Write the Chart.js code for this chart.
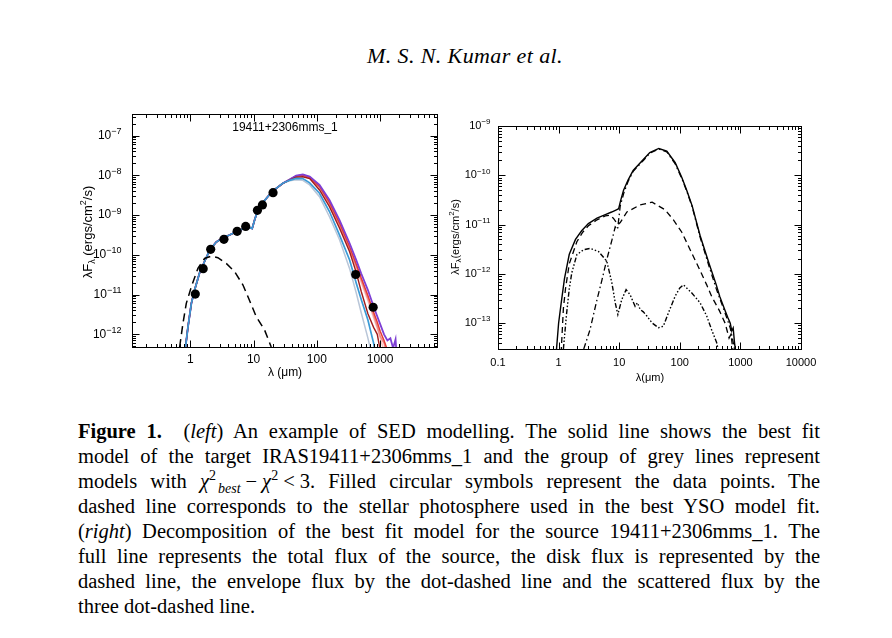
<!DOCTYPE html>
<html>
<head>
<meta charset="utf-8">
<script src="https://cdn.jsdelivr.net/npm/chart.js@4.4.1/dist/chart.umd.min.js"></script>
<style>
  body { margin: 0; background: #fff; }
  #page { position: relative; width: 892px; height: 638px; overflow: hidden; font-family: "Liberation Serif", serif; color: #000; }
  #head { position: absolute; left: 265px; width: 400px; top: 43px; text-align: center; font-style: italic; font-size: 22px; letter-spacing: 0.4px; }
  #leftBox { position: absolute; left: 60px; top: 100px; }
  #rightBox { position: absolute; left: 445px; top: 115px; }
  #caption { position: absolute; left: 78px; top: 419px; width: 742px; font-size: 20.5px; line-height: 25px; }
  #caption div { height: 25px; text-align: justify; text-align-last: justify; }
  #caption div.last { text-align-last: left; }
  .math { display: inline-block; white-space: nowrap; }
  .op { display: inline-block; margin: 0 5px; }
  .sup, .sub { font-size: 14px; line-height: 0; position: relative; vertical-align: baseline; }
  .sup { top: -8px; }
  .sub { top: 5px; margin-left: 2px; }
</style>
</head>
<body>
<div id="page">
  <div id="head">M. S. N. Kumar et al.</div>
  <div id="leftBox"><canvas id="leftChart" width="390" height="290"></canvas></div>
  <div id="rightBox"><canvas id="rightChart" width="375" height="275"></canvas></div>
  <div id="caption">
    <div><b>Figure 1.</b> &nbsp;(<i>left</i>) An example of SED modelling. The solid line shows the best fit</div>
    <div>model of the target IRAS19411+2306mms_1 and the group of grey lines represent</div>
    <div>models with <span class="math"><i>χ</i><span class="sup">2</span><span class="sub"><i>best</i></span><span class="op">−</span><i>χ</i><span class="sup">2</span><span class="op">&lt;</span>3.</span> Filled circular symbols represent the data points. The</div>
    <div>dashed line corresponds to the stellar photosphere used in the best YSO model fit.</div>
    <div>(<i>right</i>) Decomposition of the best fit model for the source 19411+2306mms_1. The</div>
    <div>full line represents the total flux of the source, the disk flux is represented by the</div>
    <div>dashed line, the envelope flux by the dot-dashed line and the scattered flux by the</div>
    <div class="last">three dot-dashed line.</div>
  </div>
</div>
<script>
// ---- left panel: observed SED (um, ergs/cm2/s) ----
const obsWave = [1.2, 1.6, 2.1, 3.4, 5.5, 7.5, 11.5, 13.8, 20.3, 410, 775];
const obsFlux = [1.03e-11, 4.5e-11, 1.38e-10, 2.46e-10, 3.9e-10, 5.2e-10, 1.32e-9, 1.8e-9, 3.67e-9, 3.2e-11, 4.8e-12];

// part of the YSO models that all fits share (< 30 um)
const commonWave = [0.84, 0.92, 1.04, 1.17, 1.4, 1.68, 2.02, 2.57, 3.28, 4.17, 5.31, 6.77, 8.6, 9.5, 10.4, 11.7, 14.0, 17.9, 22.8, 29];
const commonFlux = [4.7e-13, 1.55e-12, 6e-12, 1.3e-11, 3.5e-11, 6.8e-11, 1.3e-10, 2.1e-10, 2.7e-10, 3.15e-10, 3.8e-10, 4.5e-10, 4.9e-10, 4.6e-10, 7.6e-10, 1.35e-9, 2.06e-9, 3.3e-9, 4.7e-9, 6.3e-9];

// far-IR tails of the individual good fits
const tailWave = [37, 47, 60, 77, 110, 158, 228, 329, 419, 502, 640, 787, 900, 1000, 1150, 1300, 1450, 1600, 1750, 1850];
const purpleTail  = [7.9e-9, 9.8e-9, 1.06e-8, 9.3e-9, 5.75e-9, 2.4e-9, 7.5e-10, 1.96e-10, 7.4e-11, 3.4e-11, 1.3e-11, 5e-12, 2.8e-12, 1.8e-12, 1.0e-12, 7e-13, 8e-13, 4.5e-13, 7.5e-13, 2e-13];
const redTail     = [7.8e-9, 9.6e-9, 1.02e-8, 8.9e-9, 5.3e-9, 2.1e-9, 6.3e-10, 1.6e-10, 5.8e-11, 2.6e-11, 9.5e-12, 3.6e-12, 2e-12, 1.2e-12, 7e-13, 4e-13, 2e-13, 1e-13, 1e-13, 1e-13];
const salmonTail  = [7.75e-9, 9.4e-9, 9.9e-9, 8.6e-9, 5.0e-9, 1.95e-9, 5.8e-10, 1.45e-10, 5.2e-11, 2.3e-11, 8e-12, 3e-12, 1.6e-12, 9e-13, 6e-13, 3e-13, 1e-13, 1e-13, 1e-13, 1e-13];
const pinkTail    = [7.7e-9, 9.2e-9, 9.6e-9, 8.4e-9, 4.9e-9, 1.85e-9, 5.5e-10, 1.35e-10, 4.8e-11, 2e-11, 7e-12, 2.6e-12, 1.4e-12, 8e-13, 4e-13, 1e-13, 1e-13, 1e-13, 1e-13, 1e-13];
const darkredTail = [7.6e-9, 9.0e-9, 9.2e-9, 8.3e-9, 4.3e-9, 1.63e-9, 4.7e-10, 1.2e-10, 3.6e-11, 1.2e-11, 3.3e-12, 1.5e-12, 1.0e-12, 4e-13, 1e-13, 1e-13, 1e-13, 1e-13, 1e-13, 1e-13];
const blueTail    = [7.5e-9, 8.4e-9, 8.3e-9, 6.5e-9, 3.55e-9, 1.23e-9, 3.15e-10, 7.4e-11, 1.93e-11, 7.5e-12, 2.3e-12, 6e-13, 2e-13, 1e-13, 1e-13, 1e-13, 1e-13, 1e-13, 1e-13, 1e-13];
const greyTail    = [7.3e-9, 7.8e-9, 7.5e-9, 5.75e-9, 2.9e-9, 9.1e-10, 2.4e-10, 4.5e-11, 1.1e-11, 3.5e-12, 8e-13, 2e-13, 1e-13, 1e-13, 1e-13, 1e-13, 1e-13, 1e-13, 1e-13, 1e-13];

// stellar photosphere
const starWave = [0.679, 0.766, 0.865, 1.04, 1.32, 1.68, 2.15, 2.73, 3.7, 5.0, 6.8, 8.6, 11.0, 14.9, 19];
const starFlux = [4.8e-13, 1.9e-12, 6e-12, 1.58e-11, 4.6e-11, 8.1e-11, 9.3e-11, 8.5e-11, 6.1e-11, 3.8e-11, 1.74e-11, 7.2e-12, 2.8e-12, 1.29e-12, 4.8e-13];

const leftXTicks = [1, 10, 100, 1000];
const leftXLabels = ["1", "10", "100", "1000"];
const leftYTicks = [1e-12, 1e-11, 1e-10, 1e-9, 1e-8, 1e-7];

// ---- right panel: decomposition of the best fit ----
const totalWave = [0.9, 1.0, 1.1, 1.25, 1.5, 1.9, 2.4, 3.1, 4.3, 5.9, 7.5, 9.0, 9.8, 10.5, 11.8, 14, 17, 25, 32, 45, 61, 84, 108, 130, 160, 216, 300, 400, 456, 560, 620, 680, 720, 760, 800, 860];
const totalFlux = [2e-14, 1e-13, 2.5e-13, 8e-13, 2.5e-12, 5e-12, 7.5e-12, 1.05e-11, 1.35e-11, 1.6e-11, 1.8e-11, 2.0e-11, 2.1e-11, 3e-11, 5e-11, 8e-11, 1.25e-10, 2.1e-10, 2.9e-10, 3.5e-10, 3.1e-10, 1.8e-10, 9e-11, 5e-11, 2.4e-11, 6e-12, 1.7e-12, 6e-13, 3.5e-13, 1.8e-13, 1.3e-13, 1.0e-13, 7e-14, 8e-14, 4e-14, 2e-14];

const diskWave = [1.1, 1.2, 1.3, 1.5, 2.0, 2.5, 3.1, 4.3, 5.9, 7.0, 8.0, 9.5, 10.4, 13.4, 22, 35, 57, 78.5, 108, 148, 202, 278, 335, 450, 560, 650, 700, 760];
const diskFlux = [2.5e-14, 2e-13, 5e-13, 1.6e-12, 4.5e-12, 7e-12, 9.5e-12, 1.25e-11, 1.5e-11, 1.55e-11, 1.35e-11, 1.0e-11, 1.1e-11, 1.8e-11, 2.5e-11, 2.85e-11, 2.0e-11, 1.25e-11, 7e-12, 3.1e-12, 1.4e-12, 6e-13, 3.5e-13, 1.8e-13, 1.0e-13, 5e-14, 6e-14, 2.5e-14];

const envWave = [2.6, 3.3, 4.3, 5.2, 6.2, 7.6, 8.6, 9.4, 10.4, 12, 14, 17, 25, 32, 45, 61, 84, 108, 130, 160, 216, 300, 400, 456, 560, 680, 800];
const envFlux = [3e-14, 7.4e-14, 3e-13, 7.6e-13, 1.9e-12, 4.9e-12, 9e-12, 8e-12, 2.4e-11, 4.5e-11, 7.5e-11, 1.2e-10, 2.0e-10, 2.8e-10, 3.4e-10, 3.0e-10, 1.7e-10, 8.6e-11, 4.8e-11, 2.3e-11, 5.6e-12, 1.5e-12, 5e-13, 3.2e-13, 1.6e-13, 8e-14, 3e-14];

const scatWave = [1.2, 1.35, 1.5, 1.65, 2.0, 2.58, 3.33, 4.57, 6.25, 7.57, 8.6, 9.5, 11.0, 13.0, 15.1, 18.3, 20, 22.2, 25, 28.6, 34.7, 44.5, 53.5, 64.6, 83.5, 100, 115, 158, 216, 278, 335, 407, 440];
const scatFlux = [3e-14, 1.5e-13, 5e-13, 1.05e-12, 2.45e-12, 3.1e-12, 3.3e-12, 2.85e-12, 1.8e-12, 6.6e-13, 2.6e-13, 1.5e-13, 3e-13, 4.8e-13, 3.8e-13, 2.2e-13, 2.6e-13, 1.9e-13, 1.7e-13, 1.4e-13, 1.02e-13, 8.1e-14, 8.7e-14, 1.6e-13, 3.5e-13, 5.2e-13, 6e-13, 4.1e-13, 2.6e-13, 1.4e-13, 7.4e-14, 4e-14, 2.5e-14];

const rightXTicks = [0.1, 1, 10, 100, 1000, 10000];
const rightXLabels = ["0.1", "1", "10", "100", "1000", "10000"];
const rightYTicks = [1e-13, 1e-12, 1e-11, 1e-10, 1e-9];

const SANS = '"Liberation Sans", Arial, sans-serif';

function pts(w, f) {
  return w.map((v, i) => ({ x: v, y: f[i] }));
}

function logSteps(min, max) {
  const out = [];
  for (let e = Math.floor(Math.log10(min)); e <= Math.ceil(Math.log10(max)); e++) {
    for (let m = 1; m <= 9; m++) {
      const v = m * Math.pow(10, e);
      if (v >= min * 0.999 && v <= max * 1.001) out.push([v, m === 1]);
    }
  }
  return out;
}

// rich text: segments of [text, kind] where kind is n / sub / sup
function drawRich(ctx, segs, size) {
  const fontFor = k => (k === 'n' ? size : Math.round(size * 0.72)) + 'px ' + SANS;
  let total = 0;
  segs.forEach(([t, k]) => { ctx.font = fontFor(k); total += ctx.measureText(t).width; });
  let x = -total / 2;
  ctx.textAlign = 'left';
  ctx.textBaseline = 'middle';
  segs.forEach(([t, k]) => {
    ctx.font = fontFor(k);
    const dy = k === 'sub' ? size * 0.32 : k === 'sup' ? -size * 0.38 : 0;
    ctx.fillText(t, x, dy);
    x += ctx.measureText(t).width;
  });
}

function drawPow(ctx, v, xr, py, o) {
  const exp = '\u2212' + Math.round(-Math.log10(v));
  ctx.font = o.supFont;
  const we = ctx.measureText(exp).width;
  ctx.font = o.font;
  const wb = ctx.measureText('10').width;
  ctx.textAlign = 'left';
  ctx.textBaseline = 'middle';
  ctx.fillText('10', xr - we - wb, py);
  ctx.font = o.supFont;
  ctx.fillText(exp, xr - we, py - o.supRise);
}

// IDL-like box: inward ticks on every side, labels, titles
const framePlugin = {
  id: 'frame',
  afterDraw(chart, args, o) {
    const { ctx, chartArea: a } = chart;
    const xs = chart.scales.x, ys = chart.scales.y;
    ctx.save();
    ctx.strokeStyle = '#000';
    ctx.lineWidth = 1;
    const L = Math.round(a.left) + 0.5, R = Math.round(a.right) + 0.5;
    const T = Math.round(a.top) + 0.5, B = Math.round(a.bottom) + 0.5;
    ctx.strokeRect(L, T, R - L, B - T);
    ctx.beginPath();
    logSteps(xs.min, xs.max).forEach(([v, major]) => {
      const p = Math.round(xs.getPixelForValue(v)) + 0.5;
      const len = major ? o.major : o.minor;
      ctx.moveTo(p, B); ctx.lineTo(p, B - len);
      ctx.moveTo(p, T); ctx.lineTo(p, T + len);
    });
    logSteps(ys.min, ys.max).forEach(([v, major]) => {
      const p = Math.round(ys.getPixelForValue(v)) + 0.5;
      const len = major ? o.major : o.minor;
      ctx.moveTo(L, p); ctx.lineTo(L + len, p);
      ctx.moveTo(R, p); ctx.lineTo(R - len, p);
    });
    ctx.stroke();

    ctx.fillStyle = '#000';
    ctx.font = o.font;
    ctx.textAlign = 'center';
    ctx.textBaseline = 'middle';
    o.xTicks.forEach((v, i) => ctx.fillText(o.xLabels[i], xs.getPixelForValue(v), B + o.xLabelGap));
    o.yTicks.forEach(v => drawPow(ctx, v, L - o.yLabelGap, ys.getPixelForValue(v), o));

    ctx.save();
    ctx.translate((L + R) / 2, B + o.xTitleGap);
    drawRich(ctx, o.xTitle, o.titleSize);
    ctx.restore();

    ctx.save();
    ctx.translate(L - o.yTitleGap, o.yTitleCenter);
    ctx.rotate(-Math.PI / 2);
    drawRich(ctx, o.yTitle, o.yTitleSize || o.titleSize);
    ctx.restore();

    if (o.label) {
      ctx.font = o.labelFont;
      ctx.textAlign = 'center';
      ctx.textBaseline = 'middle';
      ctx.fillText(o.label, (L + R) / 2, T + o.labelGap);
    }
    ctx.restore();
  }
};

function modelLine(tail, color, width) {
  return {
    data: pts(commonWave.concat(tailWave), commonFlux.concat(tail)),
    showLine: true, borderColor: color, borderWidth: width || 1.6,
    pointRadius: 0, tension: 0
  };
}

new Chart(document.getElementById('leftChart'), {
  type: 'scatter',
  data: {
    datasets: [
      { data: pts(obsWave, obsFlux), showLine: false, pointRadius: 4.6, pointBackgroundColor: '#000', pointBorderColor: '#000', pointBorderWidth: 0 },
      { data: pts(starWave, starFlux), showLine: true, borderColor: '#000', borderWidth: 1.5, borderDash: [8, 5], pointRadius: 0 },
      modelLine(blueTail, '#3a9ad6', 1.7),
      modelLine(darkredTail, '#a01c1c', 1.4),
      modelLine(purpleTail, '#7d3fd4', 1.8),
      modelLine(redTail, '#e53935', 1.5),
      modelLine(salmonTail, '#f08a84', 1.5),
      modelLine(pinkTail, '#f6c2c0', 1.5),
      modelLine(greyTail, '#b9c6d8', 1.5)
    ]
  },
  options: {
    responsive: false,
    animation: false,
    layout: { padding: { left: 72, top: 14, right: 13, bottom: 43 } },
    plugins: {
      legend: { display: false },
      tooltip: { enabled: false },
      frame: {
        major: 7, minor: 3.5,
        font: '12px ' + SANS, supFont: '9px ' + SANS, supRise: 4,
        xTicks: leftXTicks, xLabels: leftXLabels, yTicks: leftYTicks,
        xLabelGap: 12, yLabelGap: 11, xTitleGap: 25, yTitleGap: 44, yTitleCenter: 132,
        titleSize: 12, yTitleSize: 13,
        xTitle: [['λ (μm)', 'n']],
        yTitle: [['λF', 'n'], ['λ', 'sub'], [' (ergs/cm', 'n'], ['2', 'sup'], ['/s)', 'n']],
        label: '19411+2306mms_1', labelFont: '12px ' + SANS, labelGap: 13
      }
    },
    scales: {
      x: { type: 'logarithmic', min: 0.12, max: 7900, display: false },
      y: { type: 'logarithmic', min: 4.8e-13, max: 3.5e-7, display: false }
    }
  },
  plugins: [framePlugin]
});

new Chart(document.getElementById('rightChart'), {
  type: 'scatter',
  data: {
    datasets: [
      { data: pts(totalWave, totalFlux), showLine: true, borderColor: '#000', borderWidth: 1.4, pointRadius: 0 },
      { data: pts(envWave, envFlux), showLine: true, borderColor: '#000', borderWidth: 1.3, borderDash: [6, 3, 1.5, 3], pointRadius: 0 },
      { data: pts(diskWave, diskFlux), showLine: true, borderColor: '#000', borderWidth: 1.3, borderDash: [6, 4], pointRadius: 0 },
      { data: pts(scatWave, scatFlux), showLine: true, borderColor: '#000', borderWidth: 1.4, borderDash: [5, 2, 1.5, 2, 1.5, 2, 1.5, 2], pointRadius: 0 }
    ]
  },
  options: {
    responsive: false,
    animation: false,
    layout: { padding: { left: 53, top: 11, right: 19, bottom: 41 } },
    plugins: {
      legend: { display: false },
      tooltip: { enabled: false },
      frame: {
        major: 7, minor: 3.5,
        font: '11px ' + SANS, supFont: '8px ' + SANS, supRise: 4,
        xTicks: rightXTicks, xLabels: rightXLabels, yTicks: rightYTicks,
        xLabelGap: 13, yLabelGap: 8, xTitleGap: 28, yTitleGap: 43, yTitleCenter: 122,
        titleSize: 11,
        xTitle: [['λ(μm)', 'n']],
        yTitle: [['λF', 'n'], ['λ', 'sub'], ['(ergs/cm', 'n'], ['2', 'sup'], ['/s)', 'n']]
      }
    },
    scales: {
      x: { type: 'logarithmic', min: 0.1, max: 10000, display: false },
      y: { type: 'logarithmic', min: 3e-14, max: 1e-9, display: false }
    }
  },
  plugins: [framePlugin]
});
</script>
</body>
</html>
